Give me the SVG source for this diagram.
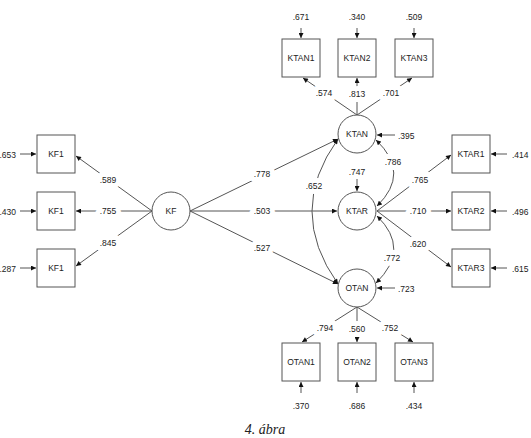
<svg xmlns="http://www.w3.org/2000/svg" width="531" height="438" viewBox="0 0 531 438">
<style>
.box{fill:#fff;stroke:#555;stroke-width:1}
.lv{fill:#fff;stroke:#555;stroke-width:1}
.nt{font-family:"Liberation Sans",Arial,sans-serif;font-size:8.5px;fill:#222;text-anchor:middle;dominant-baseline:central}
.c{fill:none;stroke:#555;stroke-width:1;marker-end:url(#ah)}
.cc{fill:none;stroke:#555;stroke-width:1;marker-end:url(#ah);marker-start:url(#ah)}
.l{font-family:"Liberation Sans",Arial,sans-serif;font-size:8.5px;fill:#222;text-anchor:middle;dominant-baseline:central;stroke:#fff;stroke-width:10;stroke-linejoin:round;paint-order:stroke}
.e{font-family:"Liberation Sans",Arial,sans-serif;font-size:8.5px;fill:#222;dominant-baseline:central}
.cap{font-family:"Liberation Serif","Times New Roman",serif;font-style:italic;font-size:14px;fill:#222;text-anchor:middle}
</style>
<defs>
<marker id="ah" viewBox="0 0 10 10" refX="10" refY="5" markerWidth="6" markerHeight="5" orient="auto-start-reverse" markerUnits="userSpaceOnUse"><path d="M0,0 L10,5 L0,10 z" fill="#111"/></marker>
</defs>
<rect width="531" height="438" fill="#fff"/>
<g id="connectors">
<line class="c" x1="152" y1="211" x2="76" y2="156"/>
<line class="c" x1="152" y1="211" x2="76" y2="211"/>
<line class="c" x1="152" y1="211" x2="76" y2="266"/>
<line class="c" x1="20" y1="154" x2="36" y2="154"/>
<line class="c" x1="20" y1="211" x2="36" y2="211"/>
<line class="c" x1="20" y1="268" x2="36" y2="268"/>
<line class="c" x1="190" y1="211" x2="338" y2="139"/>
<line class="c" x1="190" y1="211" x2="337" y2="211"/>
<line class="c" x1="190" y1="211" x2="338" y2="284"/>
<path class="cc" d="M338,139 Q286,211 338,284"/>
<path class="cc" d="M376,140 Q411,173 377,206"/>
<path class="cc" d="M377,216 Q411,249 376,283"/>
<line class="c" x1="357" y1="115" x2="303" y2="78"/>
<line class="c" x1="357" y1="115" x2="357" y2="78"/>
<line class="c" x1="357" y1="115" x2="412" y2="78"/>
<line class="c" x1="301" y1="28" x2="301" y2="38"/>
<line class="c" x1="357" y1="28" x2="357" y2="38"/>
<line class="c" x1="414" y1="28" x2="414" y2="38"/>
<line class="c" x1="377" y1="211" x2="451" y2="155"/>
<line class="c" x1="377" y1="211" x2="451" y2="211"/>
<line class="c" x1="377" y1="211" x2="451" y2="267"/>
<line class="c" x1="507" y1="154" x2="491" y2="154"/>
<line class="c" x1="507" y1="211" x2="491" y2="211"/>
<line class="c" x1="507" y1="268" x2="491" y2="268"/>
<line class="c" x1="357" y1="307" x2="302" y2="342"/>
<line class="c" x1="357" y1="307" x2="357" y2="342"/>
<line class="c" x1="357" y1="307" x2="413" y2="342"/>
<line class="c" x1="301" y1="393" x2="301" y2="382"/>
<line class="c" x1="357" y1="393" x2="357" y2="382"/>
<line class="c" x1="414" y1="393" x2="414" y2="382"/>
<line class="c" x1="395" y1="135" x2="377" y2="135"/>
<line class="c" x1="357" y1="179" x2="357" y2="191"/>
<line class="c" x1="395" y1="288" x2="377" y2="288"/>
</g>
<g id="KF"><circle class="lv" cx="171" cy="211" r="19"/><text class="nt" x="171" y="211">KF</text></g>
<g id="KF1-a"><rect class="box" x="37" y="135" width="38" height="38"/><text class="nt" x="56" y="154">KF1</text></g>
<g id="KF1-b"><rect class="box" x="37" y="192" width="38" height="38"/><text class="nt" x="56" y="211">KF1</text></g>
<g id="KF1-c"><rect class="box" x="37" y="249" width="38" height="38"/><text class="nt" x="56" y="268">KF1</text></g>
<g id="KTAN"><circle class="lv" cx="357" cy="134" r="19"/><text class="nt" x="357" y="134">KTAN</text></g>
<g id="KTAR"><circle class="lv" cx="357" cy="211" r="19"/><text class="nt" x="357" y="211">KTAR</text></g>
<g id="OTAN"><circle class="lv" cx="357" cy="288" r="19"/><text class="nt" x="357" y="288">OTAN</text></g>
<g id="KTAN1"><rect class="box" x="282" y="39" width="38" height="38"/><text class="nt" x="301" y="58">KTAN1</text></g>
<g id="KTAN2"><rect class="box" x="338" y="39" width="38" height="38"/><text class="nt" x="357" y="58">KTAN2</text></g>
<g id="KTAN3"><rect class="box" x="395" y="39" width="38" height="38"/><text class="nt" x="414" y="58">KTAN3</text></g>
<g id="KTAR1"><rect class="box" x="452" y="135" width="38" height="38"/><text class="nt" x="471" y="154">KTAR1</text></g>
<g id="KTAR2"><rect class="box" x="452" y="192" width="38" height="38"/><text class="nt" x="471" y="211">KTAR2</text></g>
<g id="KTAR3"><rect class="box" x="452" y="249" width="38" height="38"/><text class="nt" x="471" y="268">KTAR3</text></g>
<g id="OTAN1"><rect class="box" x="282" y="343" width="38" height="38"/><text class="nt" x="301" y="362">OTAN1</text></g>
<g id="OTAN2"><rect class="box" x="338" y="343" width="38" height="38"/><text class="nt" x="357" y="362">OTAN2</text></g>
<g id="OTAN3"><rect class="box" x="395" y="343" width="38" height="38"/><text class="nt" x="414" y="362">OTAN3</text></g>
<g id="labels">
<text class="l" x="108" y="180">.589</text>
<text class="l" x="108" y="211">.755</text>
<text class="l" x="108" y="243">.845</text>
<text class="l" x="262" y="174">.778</text>
<text class="l" x="262" y="211">.503</text>
<text class="l" x="262" y="248">.527</text>
<text class="l" x="314" y="186">.652</text>
<text class="l" x="393" y="162">.786</text>
<text class="l" x="392" y="258">.772</text>
<text class="l" x="324" y="93">.574</text>
<text class="l" x="357" y="94">.813</text>
<text class="l" x="391" y="93">.701</text>
<text class="l" x="420" y="180">.765</text>
<text class="l" x="418" y="211">.710</text>
<text class="l" x="418" y="244">.620</text>
<text class="l" x="325" y="328">.794</text>
<text class="l" x="357" y="329">.560</text>
<text class="l" x="390" y="328">.752</text>
<text class="e" x="16" y="155" text-anchor="end">.653</text>
<text class="e" x="16" y="212" text-anchor="end">.430</text>
<text class="e" x="16" y="269" text-anchor="end">.287</text>
<text class="e" x="301" y="17" text-anchor="middle">.671</text>
<text class="e" x="357" y="17" text-anchor="middle">.340</text>
<text class="e" x="414" y="17" text-anchor="middle">.509</text>
<text class="e" x="512" y="155">.414</text>
<text class="e" x="512" y="212">.496</text>
<text class="e" x="512" y="269">.615</text>
<text class="e" x="301" y="406" text-anchor="middle">.370</text>
<text class="e" x="357" y="406" text-anchor="middle">.686</text>
<text class="e" x="414" y="406" text-anchor="middle">.434</text>
<text class="e" x="398" y="136">.395</text>
<text class="e" x="357" y="172" text-anchor="middle">.747</text>
<text class="e" x="398" y="289">.723</text>
</g>
<text class="cap" x="265" y="434">4. ábra</text>
</svg>
